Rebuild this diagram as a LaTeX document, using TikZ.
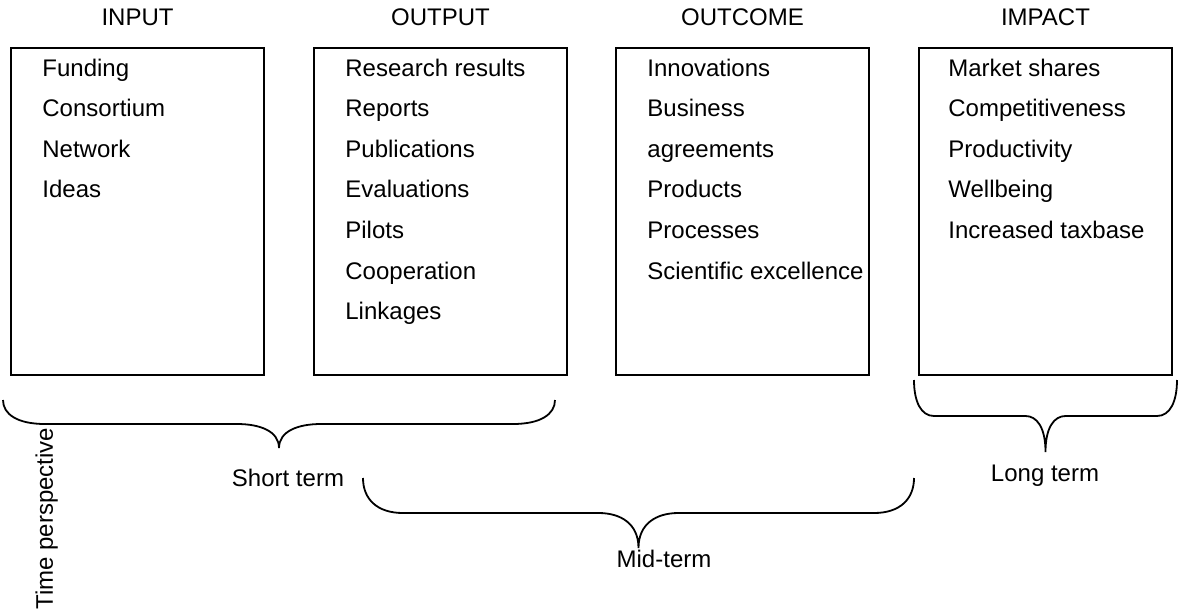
\documentclass[tikz,border=0pt]{standalone}
\usepackage{fontspec}
\setmainfont{Liberation Sans}
\usepackage{tikz}
\usetikzlibrary{positioning}
\usetikzlibrary{calc}
\tikzset{
    stage/.style={draw=black, line width=1pt, anchor=north west, inner sep=0pt,
        minimum width=126.5pt, minimum height=163.5pt},
    stagehead/.style={anchor=base, inner sep=0pt},
    item/.style={anchor=base west, inner sep=0pt},
    termlabel/.style={anchor=base, inner sep=0pt},
    braceline/.style={draw=black, line width=0.9pt},
}
% #1 left, #2 right, #3 top, #4 half depth, #5 curve width
\newcommand{\timebrace}[5]{%
    \pgfmathsetmacro{\bmid}{(#1+#2)/2}
    \draw[braceline] (#1,#3) .. controls (#1,#3+0.6*#4) and (#1+0.35*#5,#3+#4) .. (#1+#5,#3+#4)
        -- (\bmid-#5,#3+#4) .. controls (\bmid-0.45*#5,#3+#4) and (\bmid,#3+1.3*#4) .. (\bmid,#3+2*#4)
        .. controls (\bmid,#3+1.3*#4) and (\bmid+0.45*#5,#3+#4) .. (\bmid+#5,#3+#4)
        -- (#2-#5,#3+#4) .. controls (#2-0.35*#5,#3+#4) and (#2,#3+0.6*#4) .. (#2,#3);
}

\begin{document}
\begin{tikzpicture}[x=0.5pt, y=-0.5pt, font=\fontsize{12}{14}\selectfont]
% \draw[step=50, very thin, gray] (0,0) grid (1179,612);
\useasboundingbox (0,0) rectangle (1179,612);

% the four stages
\foreach \name/\x/\head in {input/10/INPUT, output/313/OUTPUT, outcome/615/OUTCOME, impact/918/IMPACT}{
    \node[stage] (\name) at (\x,47) {};
    \node[stagehead] (\name-head) at ($(\name.north)+(0,-22)$) {\head};
}

\foreach \txt [count=\i] in {Funding, Consortium, Network, Ideas}
    \node[item] (input-\i) at ($(input.north west)+(32,29+40.6*\i-40.6)$) {\txt};
\foreach \txt [count=\i] in {Research results, Reports, Publications, Evaluations, Pilots, Cooperation, Linkages}
    \node[item] (output-\i) at ($(output.north west)+(32,29+40.6*\i-40.6)$) {\txt};
\foreach \txt [count=\i] in {Innovations, Business, agreements, Products, Processes, Scientific excellence}
    \node[item] (outcome-\i) at ($(outcome.north west)+(32,29+40.6*\i-40.6)$) {\txt};
\foreach \txt [count=\i] in {Market shares, Competitiveness, Productivity, Wellbeing, Increased taxbase}
    \node[item] (impact-\i) at ($(impact.north west)+(30,29+40.6*\i-40.6)$) {\txt};

% time perspective
\timebrace{3}{555}{400}{24}{42}
\timebrace{363}{914}{478}{35}{40}
\timebrace{914}{1177}{380}{36}{20}
\node[termlabel] (short) at (288,486) {Short term};
\node[termlabel] (mid) at (664,567) {Mid-term};
\node[termlabel] (long) at (1045,481) {Long term};
\node[rotate=90, anchor=base west, inner sep=0pt] (perspective) at (53,610) {Time perspective};
\end{tikzpicture}
\end{document}
